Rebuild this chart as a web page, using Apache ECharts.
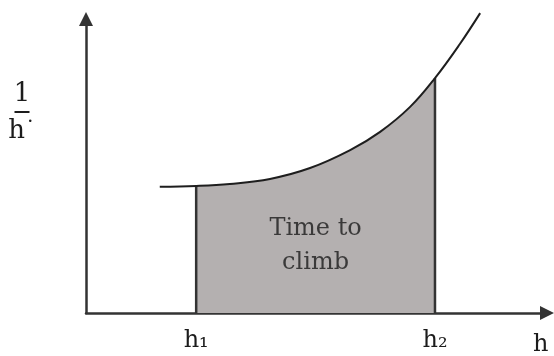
<!DOCTYPE html>
<html>
<head>
<meta charset="utf-8">
<script src="https://cdn.jsdelivr.net/npm/echarts@6/dist/echarts.min.js"></script>
<style>
  html, body { margin: 0; padding: 0; background: #fff; }
  #chart { width: 554px; height: 356px; }
</style>
</head>
<body>
<div id="chart"></div>
<script>
// 1/ḣ plotted against height h; the area between h1 and h2 is the time to climb
const curveH   = [16, 23.9, 31.2, 39.9, 48.6, 57.3, 63.8, 70.3, 75.7, 81.1, 85.5];
const curveInv = [42.9, 43.2, 43.9, 45.6, 49.3, 55.4, 61.6, 70.1, 79.9, 91.5, 102];
const h1 = 23.9;
const h2 = 75.7;
const tickValues = [h1, h2];
const tickLabels = ['h₁', 'h₂'];
const xName = 'h';
const areaText = 'Time to\nclimb';

const SERIF = 'DejaVu Serif';
const INK = '#1c1c1c';

const curve = curveH.map((h, i) => [h, curveInv[i]]);
const shaded = curve.filter(p => p[0] >= h1 && p[0] <= h2);
const invAt = h => curveInv[curveH.indexOf(h)];

const chart = echarts.init(document.getElementById('chart'));
chart.setOption({
  animation: false,
  backgroundColor: '#fff',
  grid: { left: 86, right: 7, top: 19, bottom: 43, containLabel: false, outerBoundsMode: 'none' },
  xAxis: {
    type: 'value', min: 0, max: 100,
    name: xName,
    nameLocation: 'end',
    nameGap: -14,
    nameTextStyle: { fontFamily: SERIF, fontSize: 24, color: INK, align: 'left', verticalAlign: 'top', padding: [20, 0, 0, 0] },
    axisLine: { show: true, symbol: ['none', 'triangle'], symbolSize: [14, 14], lineStyle: { color: '#333', width: 2.5 } },
    axisTick: { show: false },
    splitLine: { show: false },
    axisLabel: {
      show: true,
      customValues: tickValues,
      margin: 16,
      fontFamily: SERIF, fontSize: 24, color: INK,
      formatter: v => tickLabels[tickValues.indexOf(v)] || ''
    }
  },
  yAxis: {
    type: 'value', min: 0, max: 100,
    axisLine: { show: true, symbol: ['none', 'triangle'], symbolSize: [14, 14], lineStyle: { color: '#333', width: 2.5 } },
    axisTick: { show: false },
    splitLine: { show: false },
    axisLabel: { show: false }
  },
  graphic: [{
    type: 'text',
    x: 22, y: 80,
    style: {
      text: '{n|1}\n{bar| }\n{d|h}{p|˙}',
      align: 'center',
      verticalAlign: 'top',
      fill: INK,
      rich: {
        n: { fontFamily: SERIF, fontSize: 26, lineHeight: 28, fill: INK, align: 'center' },
        bar: { width: 15, height: 2, lineHeight: 8, backgroundColor: INK, fontSize: 2, align: 'center' },
        d: { fontFamily: SERIF, fontSize: 26, lineHeight: 30, fill: INK },
        p: { fontFamily: SERIF, fontSize: 22, lineHeight: 30, fill: INK }
      }
    }
  }],
  series: [
    {
      type: 'line',
      data: shaded,
      smooth: 0.4,
      showSymbol: false,
      lineStyle: { width: 0 },
      areaStyle: { color: '#b4b0b0', opacity: 1 },
      z: 1
    },
    {
      type: 'line',
      data: [[h1, 0], [h1, invAt(h1)]],
      showSymbol: false,
      lineStyle: { color: '#333', width: 2.5 },
      z: 2
    },
    {
      type: 'line',
      data: [[h2, 0], [h2, invAt(h2)]],
      showSymbol: false,
      lineStyle: { color: '#333', width: 2.5 },
      z: 2
    },
    {
      type: 'line',
      data: curve,
      smooth: 0.4,
      clip: false,
      showSymbol: false,
      lineStyle: { color: '#1e1e1e', width: 2 },
      z: 3
    },
    {
      type: 'scatter',
      data: [[(h1 + h2) / 2, 23]],
      symbolSize: 0,
      silent: true,
      label: {
        show: true,
        position: 'inside',
        formatter: areaText,
        fontFamily: SERIF,
        fontSize: 24,
        lineHeight: 34,
        color: INK,
        align: 'center'
      },
      z: 4
    }
  ]
});
</script>
</body>
</html>
